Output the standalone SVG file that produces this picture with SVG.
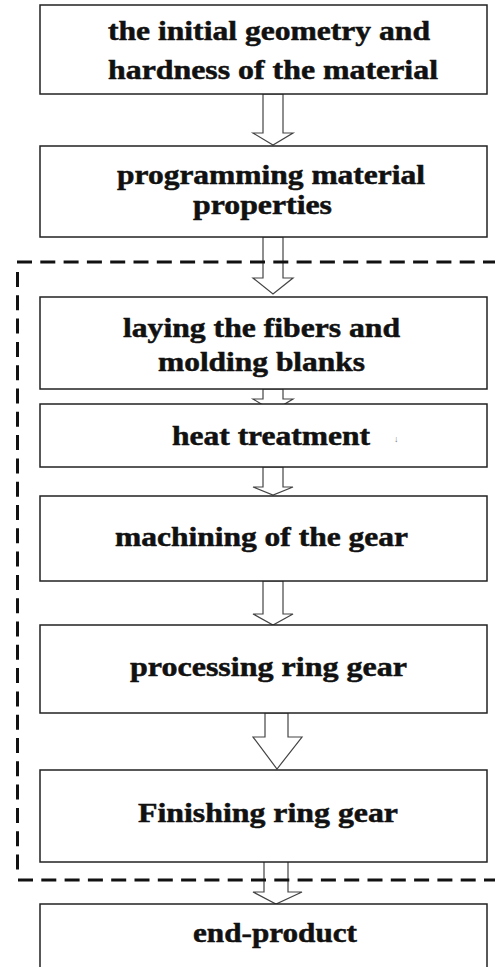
<svg xmlns="http://www.w3.org/2000/svg" width="495" height="967" viewBox="0 0 495 967">
  <style>
    .box { fill: #ffffff; stroke: #222222; stroke-width: 1.5; }
    .arrow { fill: #ffffff; stroke: #444444; stroke-width: 1.2; stroke-linejoin: miter; }
    .dash { fill: none; stroke: #111111; stroke-width: 3; stroke-dasharray: 15 8.3; }
    .lbl { font-family: "Liberation Serif", "Times New Roman", serif; font-weight: bold; font-size: 27px; fill: #111111; stroke: #111111; stroke-width: 0.5; }
    .mark { font-family: "Liberation Serif", serif; font-size: 9px; fill: #777777; }
  </style>
  <rect width="495" height="967" fill="#ffffff"/>

  <!-- block arrows between the steps -->
  <g id="connectors">
    <path class="arrow" d="M263,94 V133 H253 L273,145 L293,133 H283 V94 Z"/>
    <path class="arrow" d="M263,237 V278 H253 L273,294 L293,278 H283 V237 Z"/>
    <path class="arrow" d="M263,389 V399 H253 L273,411 L293,399 H283 V389 Z"/>
    <path class="arrow" d="M263,467 V487 H253 L273,495 L293,487 H283 V467 Z"/>
    <path class="arrow" d="M263,581 V614 H253 L273,625 L293,614 H283 V581 Z"/>
    <path class="arrow" d="M265,713 V737 H253 L277,769 L302,737 H288 V713 Z"/>
    <path class="arrow" d="M264,861 V892 H253 L276,904 L302,892 H288 V861 Z"/>
  </g>

  <!-- dashed frame around the manufacturing stage -->
  <g id="stage-frame">
    <line class="dash" x1="17" y1="262" x2="500" y2="262"/>
    <line class="dash" x1="17.5" y1="272" x2="17.5" y2="872" stroke-dasharray="14 9"/>
    <line class="dash" x1="18" y1="880" x2="500" y2="880"/>
  </g>

  <g id="n1">
    <rect class="box" x="40" y="5" width="447" height="89"/>
    <text class="lbl" x="108" y="40" textLength="322" lengthAdjust="spacingAndGlyphs">the initial geometry and</text>
    <text class="lbl" x="108" y="79" textLength="330" lengthAdjust="spacingAndGlyphs">hardness of the material</text>
  </g>

  <g id="n2">
    <rect class="box" x="40" y="146" width="447" height="91"/>
    <text class="lbl" x="117" y="184" textLength="308" lengthAdjust="spacingAndGlyphs">programming material</text>
    <text class="lbl" x="193" y="214" textLength="139" lengthAdjust="spacingAndGlyphs">properties</text>
  </g>

  <g id="n3">
    <rect class="box" x="40" y="297" width="447" height="92"/>
    <text class="lbl" x="123" y="337" textLength="277" lengthAdjust="spacingAndGlyphs">laying the fibers and</text>
    <text class="lbl" x="158" y="371" textLength="207" lengthAdjust="spacingAndGlyphs">molding blanks</text>
  </g>

  <g id="n4">
    <rect class="box" x="40" y="404" width="447" height="63"/>
    <text class="lbl" x="172" y="445" textLength="198" lengthAdjust="spacingAndGlyphs">heat treatment</text>
    <text class="mark" x="394" y="442">↓</text>
  </g>

  <g id="n5">
    <rect class="box" x="40" y="496" width="447" height="85"/>
    <text class="lbl" x="115" y="546" textLength="293" lengthAdjust="spacingAndGlyphs">machining of the gear</text>
  </g>

  <g id="n6">
    <rect class="box" x="40" y="625" width="447" height="88"/>
    <text class="lbl" x="130" y="676" textLength="277" lengthAdjust="spacingAndGlyphs">processing ring gear</text>
  </g>

  <g id="n7">
    <rect class="box" x="40" y="770" width="447" height="92"/>
    <text class="lbl" x="138" y="822" textLength="260" lengthAdjust="spacingAndGlyphs">Finishing ring gear</text>
  </g>

  <g id="n8">
    <rect class="box" x="40" y="904" width="447" height="70"/>
    <text class="lbl" x="193" y="942" textLength="164" lengthAdjust="spacingAndGlyphs">end-product</text>
  </g>
</svg>
